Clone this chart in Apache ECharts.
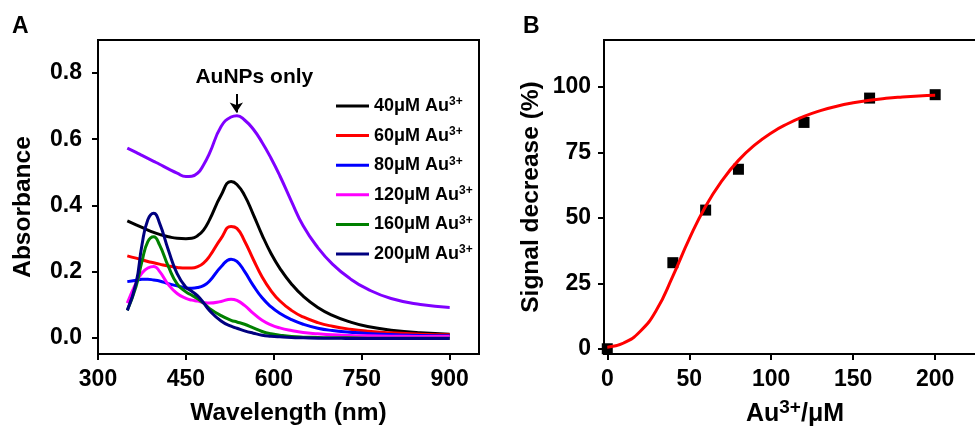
<!DOCTYPE html>
<html>
<head>
<meta charset="utf-8">
<script src="https://cdn.jsdelivr.net/npm/echarts@6/dist/echarts.min.js"></script>
<style>
html,body{margin:0;padding:0;background:#fff;}
#chart{width:975px;height:427px;}
</style>
</head>
<body>
<div id="chart"></div>
<script>
// ---- Panel A: UV-vis spectra ----
const wavelengths = [350, 365, 375, 385, 395, 405, 420, 435, 450, 460, 470, 480, 490, 510, 527, 537, 550, 565, 580, 595, 610, 630, 650, 675, 700, 730, 760, 800, 850, 900];
const auNPsOnly = [0.573, 0.560, 0.551, 0.542, 0.533, 0.524, 0.510, 0.497, 0.487, 0.488, 0.497, 0.522, 0.556, 0.638, 0.667, 0.671, 0.658, 0.630, 0.590, 0.543, 0.490, 0.412, 0.338, 0.272, 0.222, 0.178, 0.146, 0.118, 0.100, 0.091];
const au40  = [0.353, 0.341, 0.333, 0.325, 0.318, 0.312, 0.305, 0.300, 0.299, 0.300, 0.308, 0.325, 0.355, 0.430, 0.472, 0.463, 0.430, 0.372, 0.310, 0.255, 0.210, 0.162, 0.125, 0.091, 0.067, 0.047, 0.033, 0.022, 0.014, 0.010];
const au60  = [0.247, 0.240, 0.235, 0.230, 0.226, 0.222, 0.216, 0.212, 0.210, 0.210, 0.214, 0.225, 0.245, 0.300, 0.336, 0.330, 0.292, 0.236, 0.183, 0.142, 0.111, 0.082, 0.062, 0.045, 0.034, 0.025, 0.019, 0.014, 0.010, 0.008];
const au80  = [0.169, 0.173, 0.176, 0.176, 0.174, 0.171, 0.163, 0.156, 0.150, 0.149, 0.151, 0.157, 0.170, 0.214, 0.237, 0.230, 0.200, 0.157, 0.120, 0.093, 0.073, 0.054, 0.040, 0.028, 0.021, 0.016, 0.012, 0.009, 0.006, 0.005];
const au120 = [0.104, 0.165, 0.195, 0.210, 0.215, 0.200, 0.160, 0.133, 0.118, 0.113, 0.110, 0.106, 0.104, 0.109, 0.116, 0.112, 0.097, 0.073, 0.052, 0.038, 0.029, 0.021, 0.015, 0.011, 0.008, 0.006, 0.005, 0.004, 0.003, 0.003];
const au160 = [0.082, 0.155, 0.230, 0.290, 0.305, 0.280, 0.215, 0.162, 0.138, 0.128, 0.117, 0.104, 0.088, 0.066, 0.052, 0.047, 0.040, 0.029, 0.018, 0.011, 0.007, 0.003, 0.001, 0.000, -0.001, -0.001, -0.002, -0.002, -0.002, -0.002];
const au200 = [0.082, 0.165, 0.280, 0.356, 0.376, 0.346, 0.265, 0.193, 0.152, 0.140, 0.126, 0.105, 0.082, 0.050, 0.034, 0.028, 0.020, 0.013, 0.007, 0.004, 0.002, 0.000, -0.001, -0.002, -0.002, -0.003, -0.003, -0.003, -0.003, -0.003];
const concLabels = ['40μM', '60μM', '80μM', '120μM', '160μM', '200μM'];
const xTicksA = [300, 450, 600, 750, 900];
const yTicksA = [0, 0.2, 0.4, 0.6, 0.8];
const peakWavelength = 536;
const peakArrow = [0.737, 0.681];

// ---- Panel B: signal decrease ----
const concB = [0, 40, 60, 80, 120, 160, 200];
const signalB = [0, 32.9, 53, 68.6, 86.5, 95.8, 97.1];
const fitX = [0, 10, 20, 30, 40, 50, 60, 70, 80, 90, 100, 110, 120, 130, 140, 150, 160, 170, 180, 190, 200];
const fitY = [0.6, 2.2, 6.6, 14.8, 27.8, 42.0, 54.5, 64.3, 72.0, 77.9, 82.5, 86.0, 88.8, 91.0, 92.7, 94.0, 95.0, 95.7, 96.2, 96.6, 96.9];
const xTicksB = [0, 50, 100, 150, 200];
const yTicksB = [0, 25, 50, 75, 100];

const FONT = 'Liberation Sans, Arial, sans-serif';
const pair = (xs, ys) => xs.map((x, i) => [x, ys[i]]);
const colorsA = ['#000000', '#ff0000', '#0000ff', '#ff00ff', '#008000', '#000080'];
const seriesA = [au40, au60, au80, au120, au160, au200];

function axisCommon() {
  return {
    axisLine: { show: true, onZero: false, lineStyle: { color: '#000', width: 2 } },
    axisTick: { show: true, inside: false, length: 6, lineStyle: { color: '#000', width: 2 } },
    splitLine: { show: false },
    axisLabel: { color: '#000', fontFamily: FONT, fontWeight: 'bold', fontSize: 23 },
    nameTextStyle: { color: '#000', fontFamily: FONT, fontWeight: 'bold', fontSize: 24.5 }
  };
}
function mk(extra) {
  const base = axisCommon();
  const out = Object.assign({}, base, extra);
  out.axisTick = Object.assign({}, base.axisTick, extra.axisTick || {});
  out.axisLabel = Object.assign({}, base.axisLabel, extra.axisLabel || {});
  out.nameTextStyle = Object.assign({}, base.nameTextStyle, extra.nameTextStyle || {});
  return out;
}

const chart = echarts.init(document.getElementById('chart'), null, { renderer: 'canvas' });
const option = {
  animation: false,
  backgroundColor: '#fff',
  title: [
    { text: 'A', left: 12, top: 15, padding: 0, textStyle: { fontFamily: FONT, fontWeight: 'bold', fontSize: 23, color: '#000' } },
    { text: 'B', left: 523, top: 15, padding: 0, textStyle: { fontFamily: FONT, fontWeight: 'bold', fontSize: 23, color: '#000' } }
  ],
  grid: [
    { left: 98, top: 40, width: 381, height: 314, outerBoundsMode: 'none', containLabel: false,
      show: true, borderColor: '#000', borderWidth: 2, backgroundColor: 'transparent' },
    { left: 604, top: 40, width: 382, height: 314, outerBoundsMode: 'none', containLabel: false,
      show: true, borderColor: '#000', borderWidth: 2, backgroundColor: 'transparent' }
  ],
  legend: {
    data: concLabels,
    orient: 'vertical',
    left: 336,
    top: 96,
    padding: 0,
    itemGap: 10.6,
    itemWidth: 33,
    itemHeight: 3,
    icon: 'rect',
    formatter: n => '{a|' + n + ' Au}{s|3+}',
    textStyle: {
      color: '#000',
      rich: {
        a: { fontFamily: FONT, fontWeight: 'bold', fontSize: 18, lineHeight: 20, color: '#000' },
        s: { fontFamily: FONT, fontWeight: 'bold', fontSize: 12, lineHeight: 12, verticalAlign: 'top', color: '#000' }
      }
    }
  },
  xAxis: [
    mk({ type: 'value', gridIndex: 0, min: 300, max: 950,
      axisTick: { customValues: xTicksA }, axisLabel: { customValues: xTicksA, margin: 14 },
      name: 'Wavelength (nm)', nameLocation: 'middle', nameGap: 47 }),
    mk({ type: 'value', gridIndex: 1, min: -2, max: 231,
      axisTick: { customValues: xTicksB }, axisLabel: { customValues: xTicksB, margin: 14 },
      name: '{a|Au}{s|3+}{a|/μM}', nameLocation: 'middle', nameGap: 44,
      nameTextStyle: { rich: {
        a: { fontFamily: FONT, fontWeight: 'bold', fontSize: 25, lineHeight: 32, color: '#000' },
        s: { fontFamily: FONT, fontWeight: 'bold', fontSize: 19, lineHeight: 19, verticalAlign: 'top', color: '#000' }
      } } })
  ],
  yAxis: [
    mk({ type: 'value', gridIndex: 0, min: -0.05, max: 0.9,
      axisTick: { customValues: yTicksA }, axisLabel: { customValues: yTicksA, margin: 16, formatter: v => v.toFixed(1) },
      name: 'Absorbance', nameLocation: 'middle', nameGap: 62,
      nameTextStyle: { padding: [0, 20, 0, 0] } }),
    mk({ type: 'value', gridIndex: 1, min: -2, max: 118,
      axisTick: { customValues: yTicksB }, axisLabel: { customValues: yTicksB, margin: 13 },
      name: 'Signal decrease (%)', nameLocation: 'middle', nameGap: 60 })
  ],
  series: [
    {
      name: 'AuNPs only', type: 'line', xAxisIndex: 0, yAxisIndex: 0,
      data: pair(wavelengths, auNPsOnly), smooth: true, showSymbol: false,
      lineStyle: { color: '#8000ff', width: 3 }, itemStyle: { color: '#8000ff' },
      markLine: {
        silent: true, symbol: ['none', 'arrow'], symbolSize: 10,
        lineStyle: { color: '#000', width: 2, type: 'solid' },
        label: { show: true, position: 'start', formatter: 'AuNPs only', color: '#000',
          fontFamily: FONT, fontWeight: 'bold', fontSize: 21, offset: [18, 0], distance: 6 },
        data: [[{ coord: [peakWavelength, peakArrow[0]] }, { coord: [peakWavelength, peakArrow[1]] }]]
      }
    }
  ].concat(seriesA.map((vals, i) => ({
    name: concLabels[i], type: 'line', xAxisIndex: 0, yAxisIndex: 0,
    data: pair(wavelengths, vals), smooth: true, showSymbol: false,
    lineStyle: { color: colorsA[i], width: 3 }, itemStyle: { color: colorsA[i] }
  }))).concat([
    {
      name: 'data', type: 'scatter', xAxisIndex: 1, yAxisIndex: 1,
      data: pair(concB, signalB), symbol: 'rect', symbolSize: 11,
      itemStyle: { color: '#000', opacity: 1 }, z: 2
    },
    {
      name: 'fit', type: 'line', xAxisIndex: 1, yAxisIndex: 1,
      data: pair(fitX, fitY), smooth: true, showSymbol: false,
      lineStyle: { color: '#ff0000', width: 3 }, z: 3
    }
  ])
};
chart.setOption(option);
</script>
</body>
</html>
